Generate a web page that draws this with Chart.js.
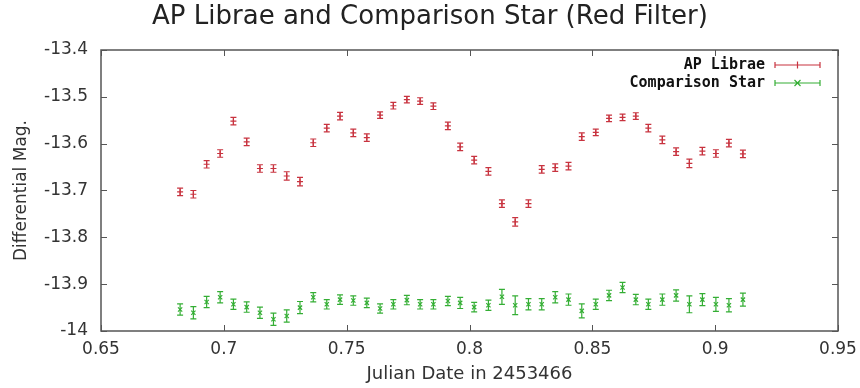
<!DOCTYPE html>
<html>
<head>
<meta charset="utf-8">
<script src="https://cdn.jsdelivr.net/npm/chart.js@4"></script>
<style>
  html, body { margin: 0; padding: 0; background: #fff; }
  #wrap { width: 860px; height: 388px; }
</style>
</head>
<body>
<div id="wrap"><canvas id="chart" width="860" height="388"></canvas></div>
<script>
// Julian date offsets (in 2453466)
const dates = [
  0.6822, 0.6876, 0.6930, 0.6985, 0.7039, 0.7093, 0.7147, 0.7202, 0.7256, 0.7310,
  0.7364, 0.7419, 0.7473, 0.7527, 0.7582, 0.7636, 0.7690, 0.7745, 0.7799, 0.7853,
  0.7912, 0.7962, 0.8019, 0.8077, 0.8132, 0.8186, 0.8240, 0.8294, 0.8349, 0.8403,
  0.8457, 0.8514, 0.8568, 0.8623, 0.8677, 0.8728, 0.8785, 0.8841, 0.8895, 0.8948,
  0.9003, 0.9056, 0.9113
];

// AP Librae magnitudes
const apLibrae = [
  -13.703, -13.708, -13.644, -13.621, -13.552, -13.596, -13.653, -13.653, -13.669, -13.681,
  -13.598, -13.567, -13.541, -13.577, -13.587, -13.539, -13.519, -13.506, -13.509, -13.520,
  -13.562, -13.607, -13.635, -13.659, -13.728, -13.767, -13.728, -13.655, -13.651, -13.648,
  -13.585, -13.576, -13.546, -13.544, -13.541, -13.567, -13.592, -13.617, -13.642, -13.616,
  -13.621, -13.599, -13.622
];
const apLibraeErr = [
  0.008, 0.008, 0.008, 0.008, 0.008, 0.008, 0.008, 0.008, 0.009, 0.009,
  0.008, 0.008, 0.008, 0.008, 0.008, 0.007, 0.007, 0.007, 0.007, 0.007,
  0.008, 0.008, 0.008, 0.008, 0.008, 0.009, 0.008, 0.008, 0.008, 0.008,
  0.008, 0.007, 0.007, 0.007, 0.007, 0.008, 0.008, 0.008, 0.009, 0.008,
  0.008, 0.008, 0.008
];

// Comparison star magnitudes
const compStar = [
  -13.954, -13.961, -13.938, -13.928, -13.943, -13.949, -13.961, -13.975, -13.968, -13.950,
  -13.928, -13.943, -13.933, -13.935, -13.940, -13.952, -13.943, -13.934, -13.943, -13.943,
  -13.936, -13.940, -13.949, -13.945, -13.927, -13.945, -13.943, -13.943, -13.928, -13.933,
  -13.957, -13.943, -13.924, -13.907, -13.933, -13.943, -13.933, -13.924, -13.943, -13.933,
  -13.943, -13.945, -13.933
];
const compStarErr = [
  0.012, 0.013, 0.012, 0.012, 0.011, 0.011, 0.012, 0.013, 0.013, 0.013,
  0.010, 0.010, 0.010, 0.010, 0.010, 0.010, 0.010, 0.010, 0.010, 0.010,
  0.010, 0.012, 0.010, 0.011, 0.016, 0.020, 0.012, 0.012, 0.012, 0.012,
  0.015, 0.011, 0.011, 0.011, 0.011, 0.011, 0.012, 0.012, 0.018, 0.013,
  0.015, 0.014, 0.014
];

// Tick labels
const xTickLabels = ['0.65', '0.7', '0.75', '0.8', '0.85', '0.9', '0.95'];
const yTickLabels = ['-14', '-13.9', '-13.8', '-13.7', '-13.6', '-13.5', '-13.4'];

const RED = '#c8333f';
const GREEN = '#34ae34';
const FRAME = '#555555';
const FONT = '"DejaVu Sans", Arial, sans-serif';

function toPoints(ys, errs) {
  return ys.map((y, i) => ({ x: dates[i], y: y, err: errs[i] }));
}

// Error bars with caps
const errorBars = {
  id: 'errorBars',
  beforeDatasetsDraw(chart) {
    const ctx = chart.ctx;
    const ys = chart.scales.y;
    chart.data.datasets.forEach((ds, di) => {
      const meta = chart.getDatasetMeta(di);
      ctx.save();
      ctx.strokeStyle = ds.borderColor;
      ctx.lineWidth = 1.2;
      meta.data.forEach((pt, i) => {
        const d = ds.data[i];
        const x = pt.x;
        const top = ys.getPixelForValue(d.y + d.err);
        const bot = ys.getPixelForValue(d.y - d.err);
        ctx.beginPath();
        ctx.moveTo(x, top); ctx.lineTo(x, bot);
        ctx.moveTo(x - 3, top); ctx.lineTo(x + 3, top);
        ctx.moveTo(x - 3, bot); ctx.lineTo(x + 3, bot);
        ctx.stroke();
      });
      ctx.restore();
    });
  }
};

// gnuplot-style frame with inward ticks, plus key
const frameAndKey = {
  id: 'frameAndKey',
  afterDraw(chart) {
    const ctx = chart.ctx;
    const a = chart.chartArea;
    const xs = chart.scales.x, ys = chart.scales.y;
    ctx.save();
    ctx.strokeStyle = FRAME;
    ctx.lineWidth = 1.5;
    ctx.strokeRect(a.left, a.top, a.right - a.left, a.bottom - a.top);
    ctx.lineWidth = 1;
    ctx.beginPath();
    xs.ticks.forEach(t => {
      const px = Math.round(xs.getPixelForValue(t.value)) + 0.5;
      ctx.moveTo(px, a.bottom); ctx.lineTo(px, a.bottom - 6);
      ctx.moveTo(px, a.top); ctx.lineTo(px, a.top + 6);
    });
    ys.ticks.forEach(t => {
      const py = Math.round(ys.getPixelForValue(t.value)) + 0.5;
      ctx.moveTo(a.left, py); ctx.lineTo(a.left + 6, py);
      ctx.moveTo(a.right, py); ctx.lineTo(a.right - 6, py);
    });
    ctx.stroke();

    // key
    const keys = [
      { label: 'AP Librae', color: RED, mark: 'plus', y: a.top + 15 },
      { label: 'Comparison Star', color: GREEN, mark: 'x', y: a.top + 33 }
    ];
    ctx.font = 'bold 15px "DejaVu Sans Mono", monospace';
    ctx.textAlign = 'right';
    ctx.textBaseline = 'middle';
    keys.forEach(k => {
      ctx.fillStyle = '#111';
      ctx.fillText(k.label, a.right - 73, k.y);
      const x0 = a.right - 63, x1 = a.right - 18, xm = (x0 + x1) / 2;
      ctx.strokeStyle = k.color;
      ctx.lineWidth = 1.2;
      ctx.beginPath();
      ctx.moveTo(x0, k.y); ctx.lineTo(x1, k.y);
      ctx.moveTo(x0, k.y - 3); ctx.lineTo(x0, k.y + 3);
      ctx.moveTo(x1, k.y - 3); ctx.lineTo(x1, k.y + 3);
      if (k.mark === 'plus') {
        ctx.moveTo(xm, k.y - 3.5); ctx.lineTo(xm, k.y + 3.5);
      } else {
        ctx.moveTo(xm - 3, k.y - 3); ctx.lineTo(xm + 3, k.y + 3);
        ctx.moveTo(xm - 3, k.y + 3); ctx.lineTo(xm + 3, k.y - 3);
      }
      ctx.stroke();
    });
    ctx.restore();
  }
};

const ctx = document.getElementById('chart');
new Chart(ctx, {
  type: 'scatter',
  data: {
    datasets: [
      {
        label: 'AP Librae',
        data: toPoints(apLibrae, apLibraeErr),
        borderColor: RED,
        backgroundColor: RED,
        pointStyle: 'cross',
        pointRadius: 3,
        borderWidth: 1.2
      },
      {
        label: 'Comparison Star',
        data: toPoints(compStar, compStarErr),
        borderColor: GREEN,
        backgroundColor: GREEN,
        pointStyle: 'crossRot',
        pointRadius: 3,
        borderWidth: 1.2
      }
    ]
  },
  options: {
    responsive: false,
    animation: false,
    layout: { padding: { left: 22, right: 22, top: 0, bottom: 0 } },
    plugins: {
      legend: { display: false },
      tooltip: { enabled: false },
      title: {
        display: true,
        text: 'AP Librae and Comparison Star (Red Filter)',
        color: '#222',
        font: { family: FONT, size: 26, weight: 'normal' },
        padding: { top: 2, bottom: 16.8 }
      }
    },
    scales: {
      x: {
        type: 'linear',
        min: 0.65,
        max: 0.95,
        grid: { display: false, drawTicks: false },
        border: { display: false },
        afterFit: s => { s.height = 57; s.paddingLeft = 0; s.paddingRight = 0; },
        ticks: {
          stepSize: 0.05,
          padding: 8,
          color: '#333',
          font: { family: FONT, size: 17 },
          callback: (v, i) => xTickLabels[i]
        },
        title: {
          display: true,
          text: 'Julian Date in 2453466',
          color: '#333',
          font: { family: FONT, size: 18 },
          padding: { top: 0, bottom: 3 }
        }
      },
      y: {
        type: 'linear',
        min: -14,
        max: -13.4,
        grid: { display: false, drawTicks: false },
        border: { display: false },
        afterFit: s => { s.width = 79; s.paddingTop = 0; s.paddingBottom = 0; },
        ticks: {
          stepSize: 0.1,
          padding: 13,
          color: '#333',
          font: { family: FONT, size: 17 },
          callback: (v, i) => yTickLabels[i]
        },
        title: {
          display: true,
          text: 'Differential Mag.',
          color: '#333',
          font: { family: FONT, size: 17 },
          padding: { top: -11, bottom: 0 }
        }
      }
    }
  },
  plugins: [errorBars, frameAndKey]
});
</script>
</body>
</html>
